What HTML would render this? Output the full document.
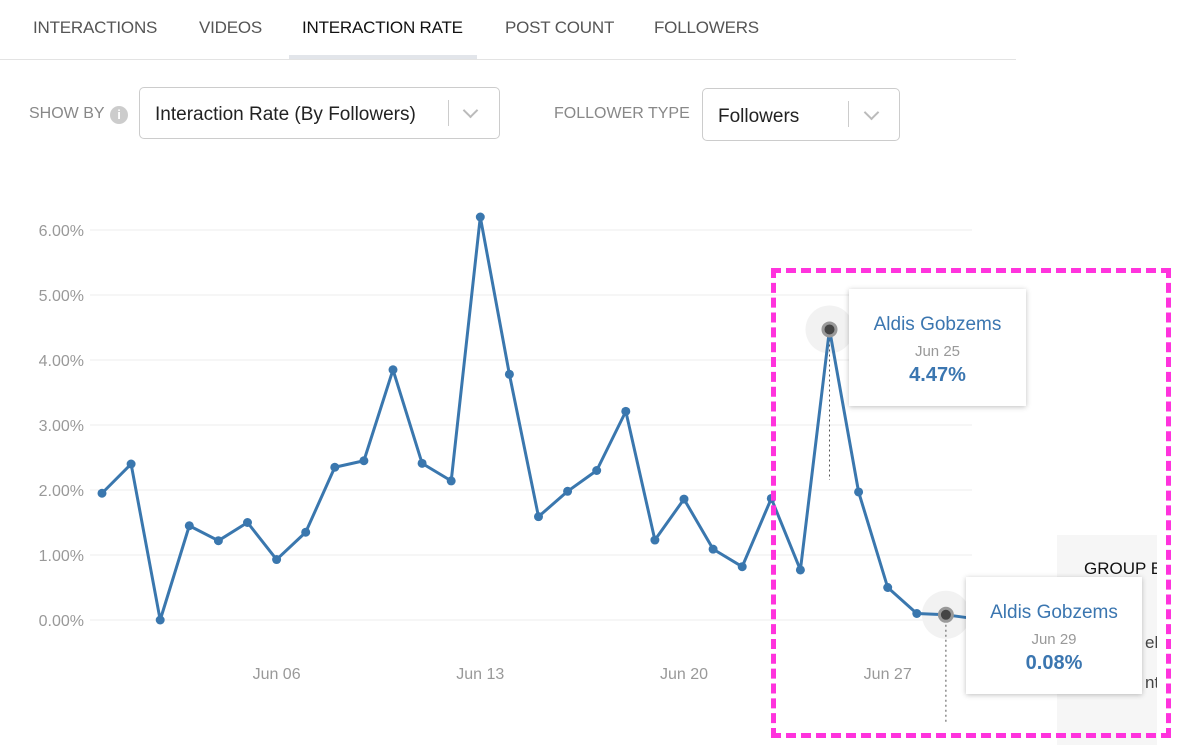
<!DOCTYPE html>
<html><head><meta charset="utf-8"><style>
body{margin:0;width:1200px;height:756px;background:#fff;font-family:"Liberation Sans",sans-serif;position:relative;overflow:hidden}
.tab{position:absolute;top:18px;font-size:17px;color:#555;letter-spacing:-.2px}
.abs{position:absolute}
.sel{position:absolute;border:1px solid #ccc;border-radius:5px;background:#fff;font-size:19px;color:#222}
.tip{position:absolute;background:#fff;box-shadow:0 1px 5px rgba(0,0,0,.25);text-align:center}
.tip .n{color:#3b76b0;font-size:19px;margin-top:25px}
.tip .d{color:#999;font-size:15px;margin-top:7px}
.tip .v{color:#3b76b0;font-size:20px;font-weight:bold;margin-top:4px}
.chev{position:absolute;width:9px;height:9px;border-right:2px solid #bbb;border-bottom:2px solid #bbb;transform:rotate(45deg)}
</style></head><body>
<div class="tab" style="left:33px">INTERACTIONS</div>
<div class="tab" style="left:199px">VIDEOS</div>
<div class="tab" style="left:302px;color:#111">INTERACTION RATE</div>
<div class="tab" style="left:505px">POST COUNT</div>
<div class="tab" style="left:654px">FOLLOWERS</div>
<div class="abs" style="left:0;top:59px;width:1016px;height:1px;background:#e3e3e3"></div>
<div class="abs" style="left:289px;top:55px;width:188px;height:4px;background:#e2e5ea"></div>
<div class="abs" style="left:29px;top:105px;font-size:16px;color:#888">SHOW BY</div>
<div class="abs" style="left:110px;top:106px;width:18px;height:18px;border-radius:50%;background:#ccc;color:#fff;font-size:13px;font-weight:bold;text-align:center;line-height:18px">i</div>
<div class="sel" style="left:139px;top:87px;width:359px;height:50px"><span class="abs" style="left:15px;top:16px">Interaction Rate (By Followers)</span><span class="abs" style="left:308px;top:12px;width:1px;height:26px;background:#ccc"></span><span class="chev" style="left:325px;top:17px"></span></div>
<div class="abs" style="left:554px;top:105px;font-size:16px;color:#888">FOLLOWER TYPE</div>
<div class="sel" style="left:702px;top:88px;width:196px;height:51px"><span class="abs" style="left:15px;top:17px">Followers</span><span class="abs" style="left:145px;top:12px;width:1px;height:26px;background:#ccc"></span><span class="chev" style="left:163px;top:18px"></span></div>
<div class="abs" style="left:1057px;top:535px;width:100px;height:210px;background:#f6f6f6;overflow:hidden"><span class="abs" style="left:27px;top:24px;font-size:17px;color:#111;white-space:nowrap">GROUP B</span><span class="abs" style="left:88px;top:98px;font-size:17px;color:#444">ek</span><span class="abs" style="left:88px;top:138px;font-size:17px;color:#444">nth</span></div>
<svg id="chart" class="abs" style="left:0;top:0" width="1200" height="756"></svg>
<div class="tip" style="left:849px;top:289px;width:177px;height:117px"><div class="n">Aldis Gobzems</div><div class="d">Jun 25</div><div class="v">4.47%</div></div>
<div class="tip" style="left:966px;top:577px;width:176px;height:117px"><div class="n">Aldis Gobzems</div><div class="d">Jun 29</div><div class="v">0.08%</div></div>
<div class="abs" style="left:771px;top:268px;width:390px;height:460px;border:5px dashed #ff33dd"></div>
<script>
const days=[0,1,2,3,4,5,6,7,8,9,10,11,12,13,14,15,16,17,18,19,20,21,22,23,24,25,26,27,28,29,30];
const values=[1.95,2.40,0.0,1.45,1.22,1.50,0.93,1.35,2.35,2.45,3.85,2.41,2.14,6.20,3.78,1.59,1.98,2.30,3.21,1.23,1.86,1.09,0.82,1.87,0.77,4.47,1.97,0.50,0.10,0.08,0.02];
const yTicks=[0,1,2,3,4,5,6];
const xTickDays=[6,13,20,27];
const xTickLabels=["Jun 06","Jun 13","Jun 20","Jun 27"];
const highlighted=[25,29];
const svg=document.getElementById('chart');const NS="http://www.w3.org/2000/svg";
const x=d=>102+d*29.1, y=v=>620-v*65;
function mk(t,a){const e=document.createElementNS(NS,t);for(const k in a)e.setAttribute(k,a[k]);svg.appendChild(e);return e;}
yTicks.forEach(v=>{
 const g=mk('line',{x1:90,x2:972,y1:y(v),y2:y(v),stroke:'#eee'});
 
 
 const t=mk('text',{x:84,y:y(v)+6,'text-anchor':'end','font-size':16,fill:'#999','font-family':'Liberation Sans'});t.textContent=v.toFixed(2)+'%';
 
 
});
xTickDays.forEach((d,i)=>{
 const t=mk('text',{x:x(d),y:679,'text-anchor':'middle','font-size':16,fill:'#999','font-family':'Liberation Sans'});t.textContent=xTickLabels[i];
 
 
});
highlighted.forEach(d=>{
 mk('circle',{cx:x(d),cy:y(values[d]),r:24,fill:'#f2f2f2'});
});
mk('line',{x1:x(25),x2:x(25),y1:y(values[25]),y2:480,stroke:'#555','stroke-dasharray':'2,3'});
mk('line',{x1:x(29),x2:x(29),y1:y(values[29]),y2:722,stroke:'#555','stroke-dasharray':'2,3'});
const p=mk('polyline',{points:days.map((d,i)=>x(d)+','+y(values[i])).join(' '),fill:'none',stroke:'#3a77ae','stroke-width':3,'stroke-linejoin':'round'});


days.forEach((d,i)=>{
 const c=mk('circle',{cx:x(d),cy:y(values[i]),r:4.5,fill:'#3a77ae'});
 
 
});
highlighted.forEach(d=>{
 mk('circle',{cx:x(d),cy:y(values[d]),r:6.5,fill:'#444',stroke:'#999','stroke-width':3});
});
</script>
</body></html>
